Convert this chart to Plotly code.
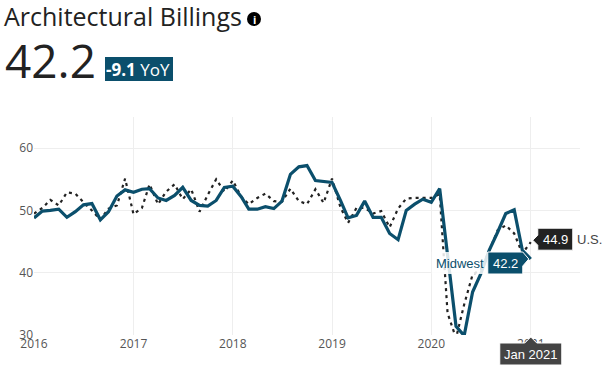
import pandas as pd
import plotly.graph_objects as go

months = pd.date_range("2016-01-01", "2021-01-01", freq="MS").strftime("%Y-%m-%d").tolist()
midwest = [48.8, 49.9, 50.0, 50.2, 48.9, 49.8, 50.9, 51.1, 48.5, 49.8, 52.3, 53.3,
           52.9, 53.4, 53.5, 52.0, 51.6, 52.4, 53.7, 51.6, 50.8, 50.7, 51.6, 53.7,
           53.9, 52.2, 50.2, 50.2, 50.6, 50.3, 51.5, 55.8, 57.0, 57.2, 54.8, 54.6,
           54.5, 51.6, 48.8, 49.2, 51.5, 48.9, 48.9, 46.3, 45.3, 50.0, 51.0, 51.8,
           51.3, 53.5, 42.5, 31.4, 29.9, 36.9, 39.8, 43.6, 46.5, 49.5, 50.1, 43.6, 42.2]
us = [49.5, 50.4, 51.7, 50.8, 52.9, 52.7, 51.3, 50.0, 48.5, 50.3, 50.8, 55.1,
      49.4, 50.4, 54.2, 51.0, 53.0, 54.2, 51.8, 53.4, 49.8, 52.5, 55.0, 53.0,
      54.8, 52.2, 51.0, 52.0, 52.7, 51.5, 51.4, 53.5, 51.5, 51.0, 53.4, 51.2,
      55.1, 50.5, 48.0, 50.4, 50.4, 49.5, 49.9, 47.3, 50.3, 51.9, 52.0, 52.0,
      52.0, 52.6, 33.5, 29.5, 34.9, 39.7, 40.5, 43.5, 46.8, 47.6, 46.3, 43.1, 44.9]
year_ticks = ["2016-01-01", "2017-01-01", "2018-01-01", "2019-01-01", "2020-01-01", "2021-01-01"]
year_labels = ["2016", "2017", "2018", "2019", "2020", "2021"]
y_ticks = [30, 40, 50, 60]

BLUE = "#0b4f6c"
DARK = "#222222"
FONT = "Open Sans"
TIP = "Liberation Sans"
W, H = 605, 371
L, R, T, B = 34, 580, 117, 335

def px(v): return (v - L) / (R - L)
def py(v): return (B - v) / (B - T)

fig = go.Figure()
fig.add_trace(go.Scatter(x=months, y=us, mode="lines", name="U.S.",
                         line=dict(color=DARK, width=2.2, dash="3px,4px"), hoverinfo="skip"))
fig.add_trace(go.Scatter(x=months, y=midwest, mode="lines", name="Midwest",
                         line=dict(color=BLUE, width=3.2), hoverinfo="skip"))

last = months[-1]
shapes = [
    dict(type="path", xref="x", xsizemode="pixel", xanchor=last, yref="y", ysizemode="pixel",
         yanchor=midwest[-1], path="M -99 -15 L -43 -15 L -43 7 L -99 7 Z",
         fillcolor="rgba(255,255,255,0.85)", line=dict(width=0)),
    dict(type="path", xref="x", xsizemode="pixel", xanchor=last, yref="y", ysizemode="pixel",
         yanchor=midwest[-1], path="M -43 -15 L -8 -15 L -8 -7 L -2 0 L -8 7 L -43 7 Z",
         fillcolor=BLUE, line=dict(color="white", width=1)),
    dict(type="path", xref="x", xsizemode="pixel", xanchor=last, yref="y", ysizemode="pixel",
         yanchor=us[-1], path="M 7 14 L 42 14 L 42 -8 L 7 -8 L 7 -3 L 2 2 L 7 7 Z",
         fillcolor=DARK, line=dict(color="white", width=1)),
    dict(type="path", xref="x", xsizemode="pixel", xanchor=last, yref="paper", ysizemode="pixel",
         yanchor=0, path="M -31 -8 L -6 -8 L 0 -2 L 6 -8 L 31 -8 L 31 -30 L -31 -30 Z",
         fillcolor="#444444", line=dict(color="white", width=1)),
    dict(type="rect", xref="paper", yref="paper", x0=px(105), x1=px(173), y0=py(81), y1=py(57),
         fillcolor=BLUE, line=dict(width=0)),
    dict(type="circle", xref="paper", yref="paper", x0=px(247), x1=px(261), y0=py(26), y1=py(12),
         fillcolor="black", line=dict(width=0)),
]

def note(text, x, y, size, color, anchor="left", family=FONT, **kw):
    return dict(text=text, x=x, y=y, xanchor=anchor, yanchor="middle", showarrow=False,
                font=dict(family=family, size=size, color=color), **kw)

annotations = [
    note("Architectural Billings", px(2), py(16), 25, DARK, xref="paper", yref="paper"),
    note("<b>i</b>", px(254), py(19), 11, "white", anchor="center", xref="paper", yref="paper"),
    note(f"{midwest[-1]}", px(3), py(60), 46, DARK, xref="paper", yref="paper"),
    note("<b>-9.1</b> YoY", px(104), py(69), 17, "white", xref="paper", yref="paper"),
    note("Midwest", last, midwest[-1], 13, BLUE, anchor="right", family=TIP, xref="x", yref="y", xshift=-45, yshift=-4),
    note(f"{midwest[-1]}", last, midwest[-1], 13, "white", anchor="center", family=TIP, xref="x", yref="y", xshift=-25, yshift=-4),
    note(f"{us[-1]}", last, us[-1], 13, "white", anchor="center", family=TIP, xref="x", yref="y", xshift=25, yshift=3),
    note("U.S.", last, us[-1], 13, "#444444", anchor="left", family=TIP, xref="x", yref="y", xshift=44, yshift=3),
    note("Jan 2021", last, 0, 13, "white", anchor="center", family=TIP, xref="x", yref="paper", yshift=-19),
]

fig.update_layout(
    width=W, height=H, autosize=False, showlegend=False,
    paper_bgcolor="white", plot_bgcolor="white",
    margin=dict(l=L, r=W - R, t=T, b=H - B, pad=0),
    font=dict(family=FONT, size=12, color="#555555"),
    shapes=shapes, annotations=annotations,
    xaxis=dict(type="date", range=["2016-01-01", "2021-07-01"], tickvals=year_ticks, ticktext=year_labels,
               showgrid=True, gridcolor="#eeeeee", gridwidth=1, zeroline=False, showline=False, ticks=""),
    yaxis=dict(range=[30, 65], tickvals=y_ticks, showgrid=True, gridcolor="#eeeeee", gridwidth=1,
               zeroline=False, showline=False, ticks=""),
)
fig.write_html("out.html", config={"displayModeBar": False},
               post_script="document.body.style.margin='0';document.body.style.overflow='hidden';")
